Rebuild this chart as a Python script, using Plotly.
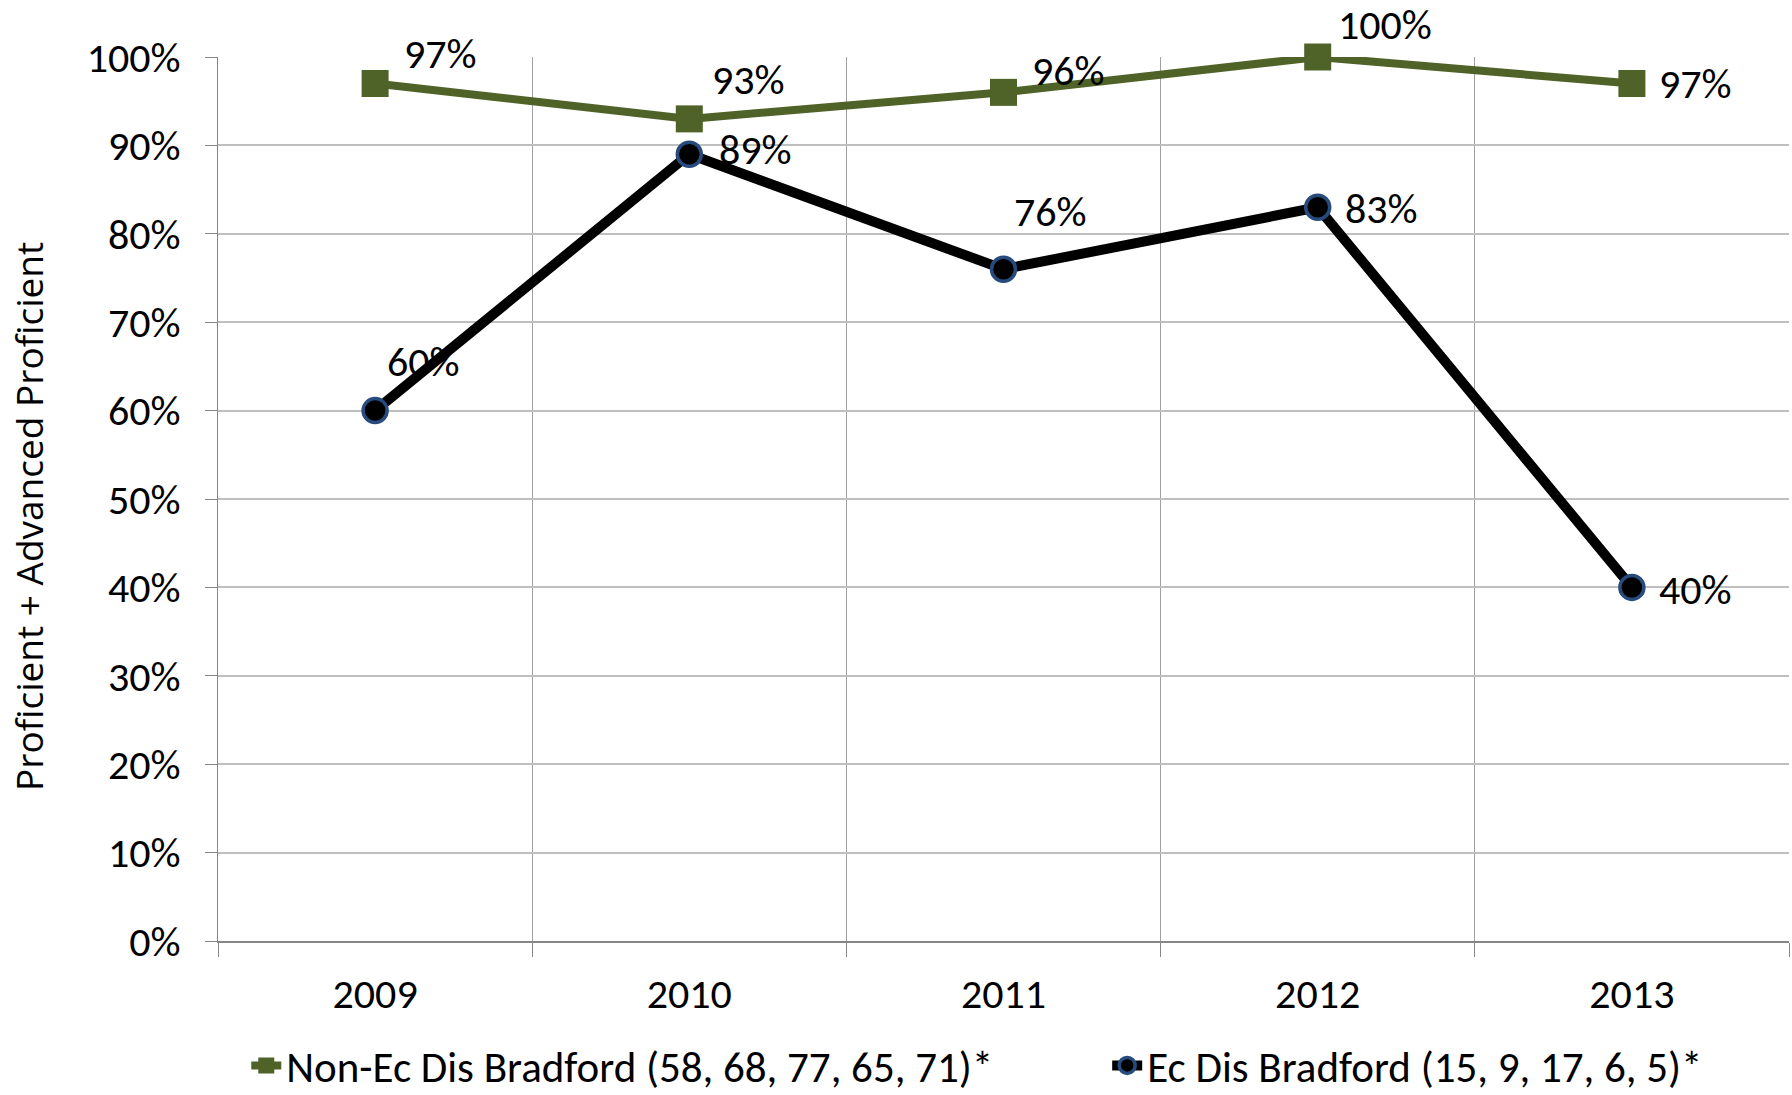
import plotly.graph_objects as go

years = ["2009", "2010", "2011", "2012", "2013"]
non_ec = [0.97, 0.93, 0.96, 1.00, 0.97]
ec = [0.60, 0.89, 0.76, 0.83, 0.40]
non_ec_name = "Non-Ec Dis Bradford (58, 68, 77, 65, 71)*"
ec_name = "Ec Dis Bradford (15, 9, 17, 6, 5)*"
y_title = "Proficient + Advanced Proficient"

# label offsets (pixels) for data labels
non_ec_shift = [(65, 30), (59, 39), (65, 22), (67, 33), (64, 0)]
ec_shift = [(48, 49), (66, 5), (47, 58), (64, -1), (64, -2)]

GREEN = "#4F6228"
FONT = "Carlito, Lato, sans-serif"
FS = 42

fig = go.Figure()
fig.add_trace(go.Scatter(
    x=years, y=non_ec, name=non_ec_name, mode="lines+markers",
    line=dict(color=GREEN, width=8),
    marker=dict(symbol="square", size=27, color=GREEN),
    cliponaxis=False, legend="legend",
))
fig.add_trace(go.Scatter(
    x=years, y=ec, name=ec_name, mode="lines+markers",
    line=dict(color="black", width=10),
    marker=dict(symbol="circle", size=24, color="black",
                line=dict(color="#274B7D", width=3.5)),
    cliponaxis=False, legend="legend2",
))

for ys, shifts in [(non_ec, non_ec_shift), (ec, ec_shift)]:
    for i, (yv, (dx, dy)) in enumerate(zip(ys, shifts)):
        fig.add_annotation(x=i, y=yv, xref="x", yref="y",
                           text=f"{round(yv*100)}%", showarrow=False,
                           xshift=dx, yshift=dy, xanchor="center", yanchor="middle",
                           font=dict(family=FONT, size=FS, color="black"))

fig.add_annotation(x=0, y=0.5, xref="paper", yref="paper", text=y_title,
                   textangle=-90, showarrow=False, xanchor="center", yanchor="middle",
                   xshift=-190, yshift=-18,
                   font=dict(family="Open Sans", size=37, color="black"))

legend_common = dict(orientation="h", yref="container", y=0.027, yanchor="middle",
                     xanchor="left", bgcolor="rgba(0,0,0,0)",
                     font=dict(family=FONT, size=43, color="black"))

fig.update_layout(
    width=1792, height=1095,
    margin=dict(l=218, r=3, t=57, b=154),
    paper_bgcolor="white", plot_bgcolor="white",
    font=dict(family=FONT, size=FS, color="black"),
    showlegend=True,
    legend=dict(x=0.018, **legend_common),
    legend2=dict(x=0.566, **legend_common),
)
fig.update_xaxes(
    type="category", range=[-0.5, 4.5], automargin=False,
    tickson="boundaries", ticks="outside", ticklen=14, tickcolor="#868686", tickwidth=1,
    showgrid=True, gridcolor="#A0A0A0", gridwidth=1,
    showline=True, linecolor="#868686", linewidth=2,
    ticklabelstandoff=15,
    tickfont=dict(family=FONT, size=FS, color="black"),
)
fig.update_yaxes(
    range=[0, 1], tickvals=[i / 10 for i in range(11)], tickformat=".0%",
    automargin=False,
    ticks="outside", ticklen=12, tickcolor="#868686", tickwidth=1,
    showgrid=True, gridcolor="#BFBFBF", gridwidth=2,
    showline=True, linecolor="#868686", linewidth=1,
    zeroline=False,
    ticklabelstandoff=16,
    tickfont=dict(family=FONT, size=FS, color="black"),
)

fig.write_html("out.html", config={"displayModeBar": False},
               post_script="document.body.style.margin='0';")
